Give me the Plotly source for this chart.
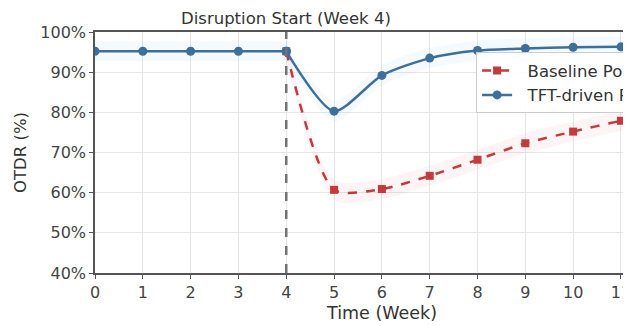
import plotly.graph_objects as go

weeks_pre = [0, 1, 2, 3, 4]
tft_pre = [95.2, 95.2, 95.2, 95.2, 95.2]
weeks_post = [4, 5, 6, 7, 8, 9, 10, 11, 12]
tft_post = [95.2, 80.3, 89.2, 93.5, 95.4, 95.9, 96.2, 96.3, 96.4]
baseline_post = [95.2, 60.7, 60.9, 64.2, 68.2, 72.3, 75.2, 77.9, 80.2]
band = 2.5
disruption_week = 4
y_ticks = [40, 50, 60, 70, 80, 90, 100]
x_ticks = list(range(0, 12))

TFT_C = "#3d6f9c"
BASE_C = "#c4393b"
FONT = "DejaVu Sans"
SM = 0.7

fig = go.Figure()


def add_band(x, y, shape, color):
    fig.add_trace(go.Scatter(x=x, y=[v + band for v in y], mode="lines",
                             line=dict(width=0, shape=shape, smoothing=SM),
                             showlegend=False, hoverinfo="skip"))
    fig.add_trace(go.Scatter(x=x, y=[v - band for v in y], mode="lines",
                             line=dict(width=0, shape=shape, smoothing=SM), fill="tonexty",
                             fillcolor=color, showlegend=False, hoverinfo="skip"))


add_band(weeks_post, baseline_post, "spline", "rgba(230,120,120,0.07)")
add_band(weeks_pre, tft_pre, "linear", "rgba(120,190,240,0.08)")
add_band(weeks_post, tft_post, "spline", "rgba(120,190,240,0.08)")

fig.add_trace(go.Scatter(
    x=weeks_post, y=baseline_post, mode="lines+markers", name="\u00a0\u00a0Baseline Policy",
    line=dict(color=BASE_C, width=2.5, dash="dash", shape="spline", smoothing=SM),
    marker=dict(symbol="square", size=8, color=BASE_C),
))
fig.add_trace(go.Scatter(
    x=weeks_pre, y=tft_pre, mode="lines+markers", showlegend=False, legendgroup="tft",
    line=dict(color=TFT_C, width=2.5),
    marker=dict(symbol="circle", size=9, color=TFT_C),
))
fig.add_trace(go.Scatter(
    x=weeks_post, y=tft_post, mode="lines+markers", name="\u00a0\u00a0TFT-driven Policy",
    legendgroup="tft",
    line=dict(color=TFT_C, width=2.5, shape="spline", smoothing=SM),
    marker=dict(symbol="circle", size=9, color=TFT_C),
))

fig.add_shape(type="line", x0=disruption_week, x1=disruption_week, y0=0, y1=1,
              xref="x", yref="paper", line=dict(color="#737373", width=2.5, dash="dash"))

fig.add_annotation(x=disruption_week, y=1, xref="x", yref="paper", yanchor="bottom",
                   yshift=2, text="Disruption Start (Week 4)", showarrow=False,
                   font=dict(family=FONT, size=16.5, color="#333333"))
fig.add_annotation(x=6, y=0, xref="x", yref="paper", yanchor="top", yshift=-28,
                   text="Time (Week)", showarrow=False,
                   font=dict(family=FONT, size=17.5, color="#333333"))

fig.update_layout(
    width=623, height=318,
    margin=dict(l=87, r=0, t=23.7, b=52.7, autoexpand=False),
    paper_bgcolor="white", plot_bgcolor="white",
    font=dict(family=FONT, size=16, color="#444444"),
    legend=dict(x=0.711, y=0.916, xanchor="left", yanchor="top", traceorder="normal",
                bordercolor="#cccccc", borderwidth=1, bgcolor="rgba(255,255,255,0.9)",
                font=dict(family=FONT, size=16.5, color="#333333"),
                tracegroupgap=0, itemwidth=30),
)
fig.update_xaxes(range=[0, 11.21], tickvals=x_ticks, showgrid=True, gridcolor="#e6e6e6",
                 gridwidth=1, showline=True, linecolor="#555555", linewidth=1.5,
                 mirror=True, ticks="outside", ticklen=4, tickcolor="#555555",
                 zeroline=False, ticklabeloverflow="allow")
fig.update_yaxes(range=[40, 100], tickvals=y_ticks, ticktext=[f"{v}%" for v in y_ticks],
                 showgrid=True, gridcolor="#e6e6e6", gridwidth=1, showline=True,
                 linecolor="#555555", linewidth=1.5, ticks="outside", ticklen=4,
                 tickcolor="#555555", zeroline=False,
                 title=dict(text="OTDR (%)", font=dict(family=FONT, size=16.5, color="#333333"),
                            standoff=10))

fig.write_html("out.html")
